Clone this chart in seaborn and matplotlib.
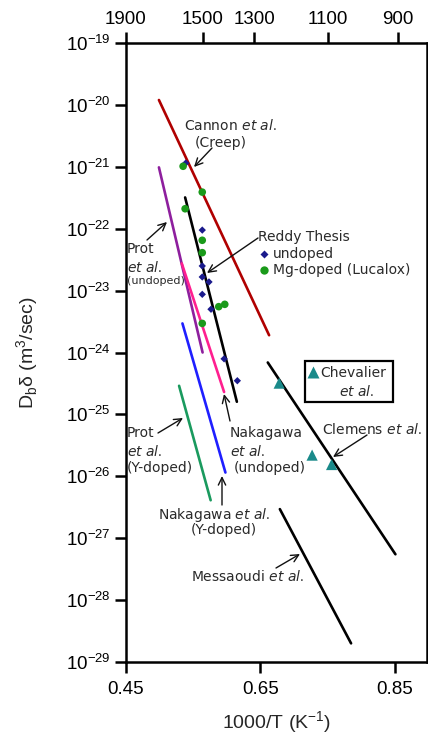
import numpy as np
import pandas as pd
import matplotlib
matplotlib.use("Agg")
import matplotlib.pyplot as plt
import seaborn as sns
from matplotlib.patches import Rectangle
from matplotlib.transforms import IdentityTransform

# ---------------- data ----------------
cannon_x = [0.499, 0.663]
cannon_y = [1.2e-20, 1.9e-24]
prot_undoped_x = [0.499, 0.564]
prot_undoped_y = [9.8e-22, 1.0e-24]
nakagawa_undoped_x = [0.533, 0.596]
nakagawa_undoped_y = [2.75e-23, 2.3e-25]
reddy_fit_x = [0.538, 0.615]
reddy_fit_y = [3.2e-22, 1.6e-25]
nakagawa_ydoped_x = [0.534, 0.598]
nakagawa_ydoped_y = [2.95e-24, 1.15e-26]
prot_ydoped_x = [0.529, 0.576]
prot_ydoped_y = [2.9e-25, 4.1e-27]
clemens_x = [0.661, 0.851]
clemens_y = [6.9e-25, 5.5e-28]
messaoudi_x = [0.679, 0.785]
messaoudi_y = [2.95e-27, 2.0e-29]

mg_x = [0.535, 0.5635, 0.538, 0.5635, 0.5635, 0.588, 0.597, 0.5635]
mg_y = [1.02e-21, 3.9e-22, 2.1e-22, 6.5e-23, 4.1e-23, 5.5e-24, 6.0e-24, 2.95e-24]
undoped_x = [0.539, 0.5635, 0.5635, 0.5635, 0.5735, 0.5635, 0.5765, 0.596, 0.6157]
undoped_y = [1.15e-21, 9.5e-23, 2.5e-23, 1.66e-23, 1.38e-23, 8.7e-24, 5.0e-24, 7.9e-25, 3.5e-25]
chev_x = [0.678, 0.727, 0.756]
chev_y = [3.2e-25, 2.2e-26, 1.55e-26]

x_ticks = [0.45, 0.65, 0.85]
x_tick_labels = ["0.45", "0.65", "0.85"]
top_tick_x = [0.45, 0.564, 0.641, 0.751, 0.855]
top_tick_labels = ["1900", "1500", "1300", "1100", "900"]
y_ticks = [1e-29, 1e-28, 1e-27, 1e-26, 1e-25, 1e-24, 1e-23, 1e-22, 1e-21, 1e-20, 1e-19]

# ---------------- style ----------------
sns.set_theme(style="white")
plt.rcParams["font.family"] = ["Liberation Sans", "DejaVu Sans"]
plt.rcParams["mathtext.fontset"] = "custom"
plt.rcParams["mathtext.rm"] = "Liberation Sans"
plt.rcParams["mathtext.it"] = "DejaVu Sans:italic"
plt.rcParams["mathtext.bf"] = "Liberation Sans:bold"
plt.rcParams["axes.unicode_minus"] = False

W, H = 428, 736
fig = plt.figure(figsize=(W / 100, H / 100), dpi=100)
ax = fig.add_axes([126 / W, 1 - 662 / H, 301 / W, 619 / H])
ax.set_yscale("log")
ax.set_xlim(0.45, 0.898)
ax.set_ylim(1e-29, 1e-19)

lw = 1.9
lines = [
    (cannon_x, cannon_y, "#b00000"),
    (prot_undoped_x, prot_undoped_y, "#8e1f9e"),
    (nakagawa_undoped_x, nakagawa_undoped_y, "#ff1f8f"),
    (reddy_fit_x, reddy_fit_y, "#000000"),
    (nakagawa_ydoped_x, nakagawa_ydoped_y, "#1f1fff"),
    (prot_ydoped_x, prot_ydoped_y, "#1a9a5e"),
    (clemens_x, clemens_y, "#000000"),
    (messaoudi_x, messaoudi_y, "#000000"),
]
for xs, ys, c in lines:
    sns.lineplot(x=xs, y=ys, color=c, lw=lw, ax=ax, zorder=2)

sns.scatterplot(x=undoped_x, y=undoped_y, marker="D", s=14, color="#1a1a8c",
                edgecolor="none", ax=ax, zorder=3)
sns.scatterplot(x=mg_x, y=mg_y, marker="o", s=30, color="#1a9a1a",
                edgecolor="none", ax=ax, zorder=4)
sns.scatterplot(x=chev_x, y=chev_y, marker="^", s=65, color="#1a8a8a",
                edgecolor="none", ax=ax, zorder=4)

# ---------------- axes styling ----------------
for s in ax.spines.values():
    s.set_linewidth(1.8)
    s.set_color("black")
ax.set_yticks(y_ticks)
ax.yaxis.set_major_formatter(matplotlib.ticker.LogFormatterSciNotation())
ax.yaxis.set_minor_locator(matplotlib.ticker.NullLocator())
ax.set_xticks(x_ticks)
ax.set_xticklabels(x_tick_labels)
ax.tick_params(axis="both", which="major", direction="out", length=8, width=1.8,
               labelsize=13.5, colors="black", bottom=True, left=True, right=False, top=False)
ax.tick_params(axis="y", pad=3)
ax.tick_params(axis="x", pad=6)

ax_top = ax.twiny()
ax_top.set_xlim(ax.get_xlim())
ax_top.set_xticks(top_tick_x)
ax_top.set_xticklabels(top_tick_labels)
ax_top.tick_params(axis="x", direction="out", length=8, width=1.8, labelsize=13.5,
                   top=True, colors="black", pad=3)
for s in ax_top.spines.values():
    s.set_visible(False)

ax.set_xlabel("1000/T (K$^{-1}$)", fontsize=14, labelpad=8)
ax.set_ylabel(r"D$_\mathregular{b}$$\mathregular{\delta}$ (m$^3$/sec)", fontsize=14, labelpad=18)

# ---------------- annotations ----------------
def P(px, py):
    return ax.transData.inverted().transform((px, H - py))

tc = "#2a2a2a"
fs = 10
arrow = dict(arrowstyle="->,head_length=0.45,head_width=0.22", lw=1.0, color="#111111",
             shrinkA=0, shrinkB=0)

def txt(s, px, py, ha="left", size=fs):
    ax.text(*P(px, py), s, ha=ha, va="center", fontsize=size, color=tc,
            family="DejaVu Sans", zorder=6)

def arr(x0, y0, x1, y1):
    ax.annotate("", xy=P(x1, y1), xytext=P(x0, y0), arrowprops=arrow, zorder=6)

ETAL = r"$\mathit{et\ al.}$"

txt("Cannon " + ETAL, 230, 125, ha="center")
txt("(Creep)", 221, 143, ha="center")
arr(212, 148, 194, 167)

txt("Prot", 127, 249)
txt(ETAL, 127, 267)
txt("(undoped)", 127, 281, size=8)
arr(147, 240, 167, 222)

txt("Reddy Thesis", 258, 237)
arr(258, 238, 207, 273)
ax.plot(*P(264, 254), marker="D", ms=4, color="#1a1a8c", mec="none", zorder=6)
txt("undoped", 273, 254)
ax.plot(*P(264, 270), marker="o", ms=6, color="#1a9a1a", mec="none", zorder=6)
txt("Mg-doped (Lucalox)", 273, 270)

rect = Rectangle((305, H - 402), 88, 41, transform=IdentityTransform(), fill=False,
                 lw=1.6, edgecolor="black", zorder=6)
ax.add_artist(rect)
ax.plot(*P(313, 372), marker="^", ms=8, color="#1a8a8a", mec="none", zorder=6)
txt("Chevalier", 320, 373)
txt(ETAL, 339, 391)

txt("Clemens " + ETAL, 322, 430)
arr(367, 435, 333, 457)

txt("Nakagawa", 230, 433)
txt(ETAL, 230, 451)
txt("(undoped)", 234, 468)
arr(230, 421, 224, 394)

txt("Prot", 127, 433)
txt(ETAL, 127, 451)
txt("(Y-doped)", 127, 468)
arr(158, 433, 183, 418)

txt("Nakagawa " + ETAL, 214, 515, ha="center")
txt("(Y-doped)", 224, 530, ha="center")
arr(222, 505, 222, 476)

txt("Messaoudi " + ETAL, 191, 576)
arr(276, 568, 300, 554)

fig.savefig("out.png", dpi=100)
